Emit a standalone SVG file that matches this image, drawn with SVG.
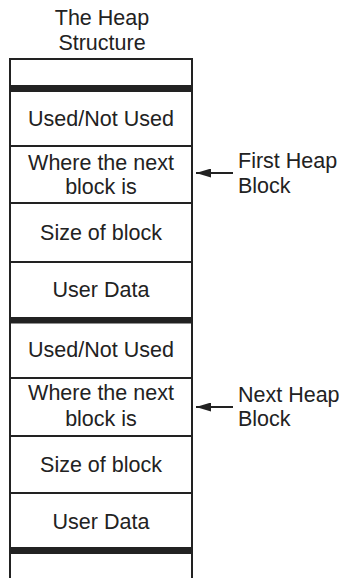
<svg xmlns="http://www.w3.org/2000/svg" width="344" height="578" viewBox="0 0 344 578">
<defs>
<style>
text{font-family:"Liberation Sans",Arial,sans-serif;font-size:21.5px;fill:#222}
.c{text-anchor:middle}
.ln{stroke:#222;stroke-width:2;fill:none}
.bar{fill:#222}
</style>
<marker id="ah" markerWidth="15" markerHeight="9" refX="15" refY="4.5" orient="auto" markerUnits="userSpaceOnUse">
<path d="M0,0 L15,4.5 L0,9 Z" fill="#222"/>
</marker>
</defs>
<rect width="344" height="578" fill="#fff"/>
<g id="title">
<text class="c" x="102" y="25">The Heap</text>
<text class="c" x="102" y="50">Structure</text>
</g>
<g id="frame">
<path class="ln" d="M10,578 V59 H192 V578"/>
<rect class="bar" x="10" y="85" width="182" height="7"/>
<rect class="bar" x="10" y="317" width="182" height="6.5"/>
<rect class="bar" x="10" y="547" width="182" height="7"/>
</g>
<g id="used1">
<text class="c" x="101" y="126">Used/Not Used</text>
<line class="ln" x1="10" y1="146" x2="192" y2="146"/>
</g>
<g id="next1">
<text class="c" x="101" y="170">Where the next</text>
<text class="c" x="101" y="194">block is</text>
<line class="ln" x1="10" y1="203" x2="192" y2="203"/>
</g>
<g id="size1">
<text class="c" x="101" y="240">Size of block</text>
<line class="ln" x1="10" y1="262" x2="192" y2="262"/>
</g>
<g id="data1">
<text class="c" x="101" y="297">User Data</text>
</g>
<g id="used2">
<text class="c" x="101" y="357">Used/Not Used</text>
<line class="ln" x1="10" y1="378" x2="192" y2="378"/>
</g>
<g id="next2">
<text class="c" x="101" y="400">Where the next</text>
<text class="c" x="101" y="426">block is</text>
<line class="ln" x1="10" y1="436" x2="192" y2="436"/>
</g>
<g id="size2">
<text class="c" x="101" y="472">Size of block</text>
<line class="ln" x1="10" y1="493" x2="192" y2="493"/>
</g>
<g id="data2">
<text class="c" x="101" y="529">User Data</text>
</g>
<g id="label1">
<text x="238" y="168">First Heap</text>
<text x="238" y="193">Block</text>
</g>
<g id="label2">
<text x="238" y="402">Next Heap</text>
<text x="238" y="426">Block</text>
</g>
<g id="connectors">
<line class="ln" x1="233" y1="173" x2="196" y2="173" marker-end="url(#ah)"/>
<line class="ln" x1="233" y1="407" x2="196" y2="407" marker-end="url(#ah)"/>
</g>
</svg>
